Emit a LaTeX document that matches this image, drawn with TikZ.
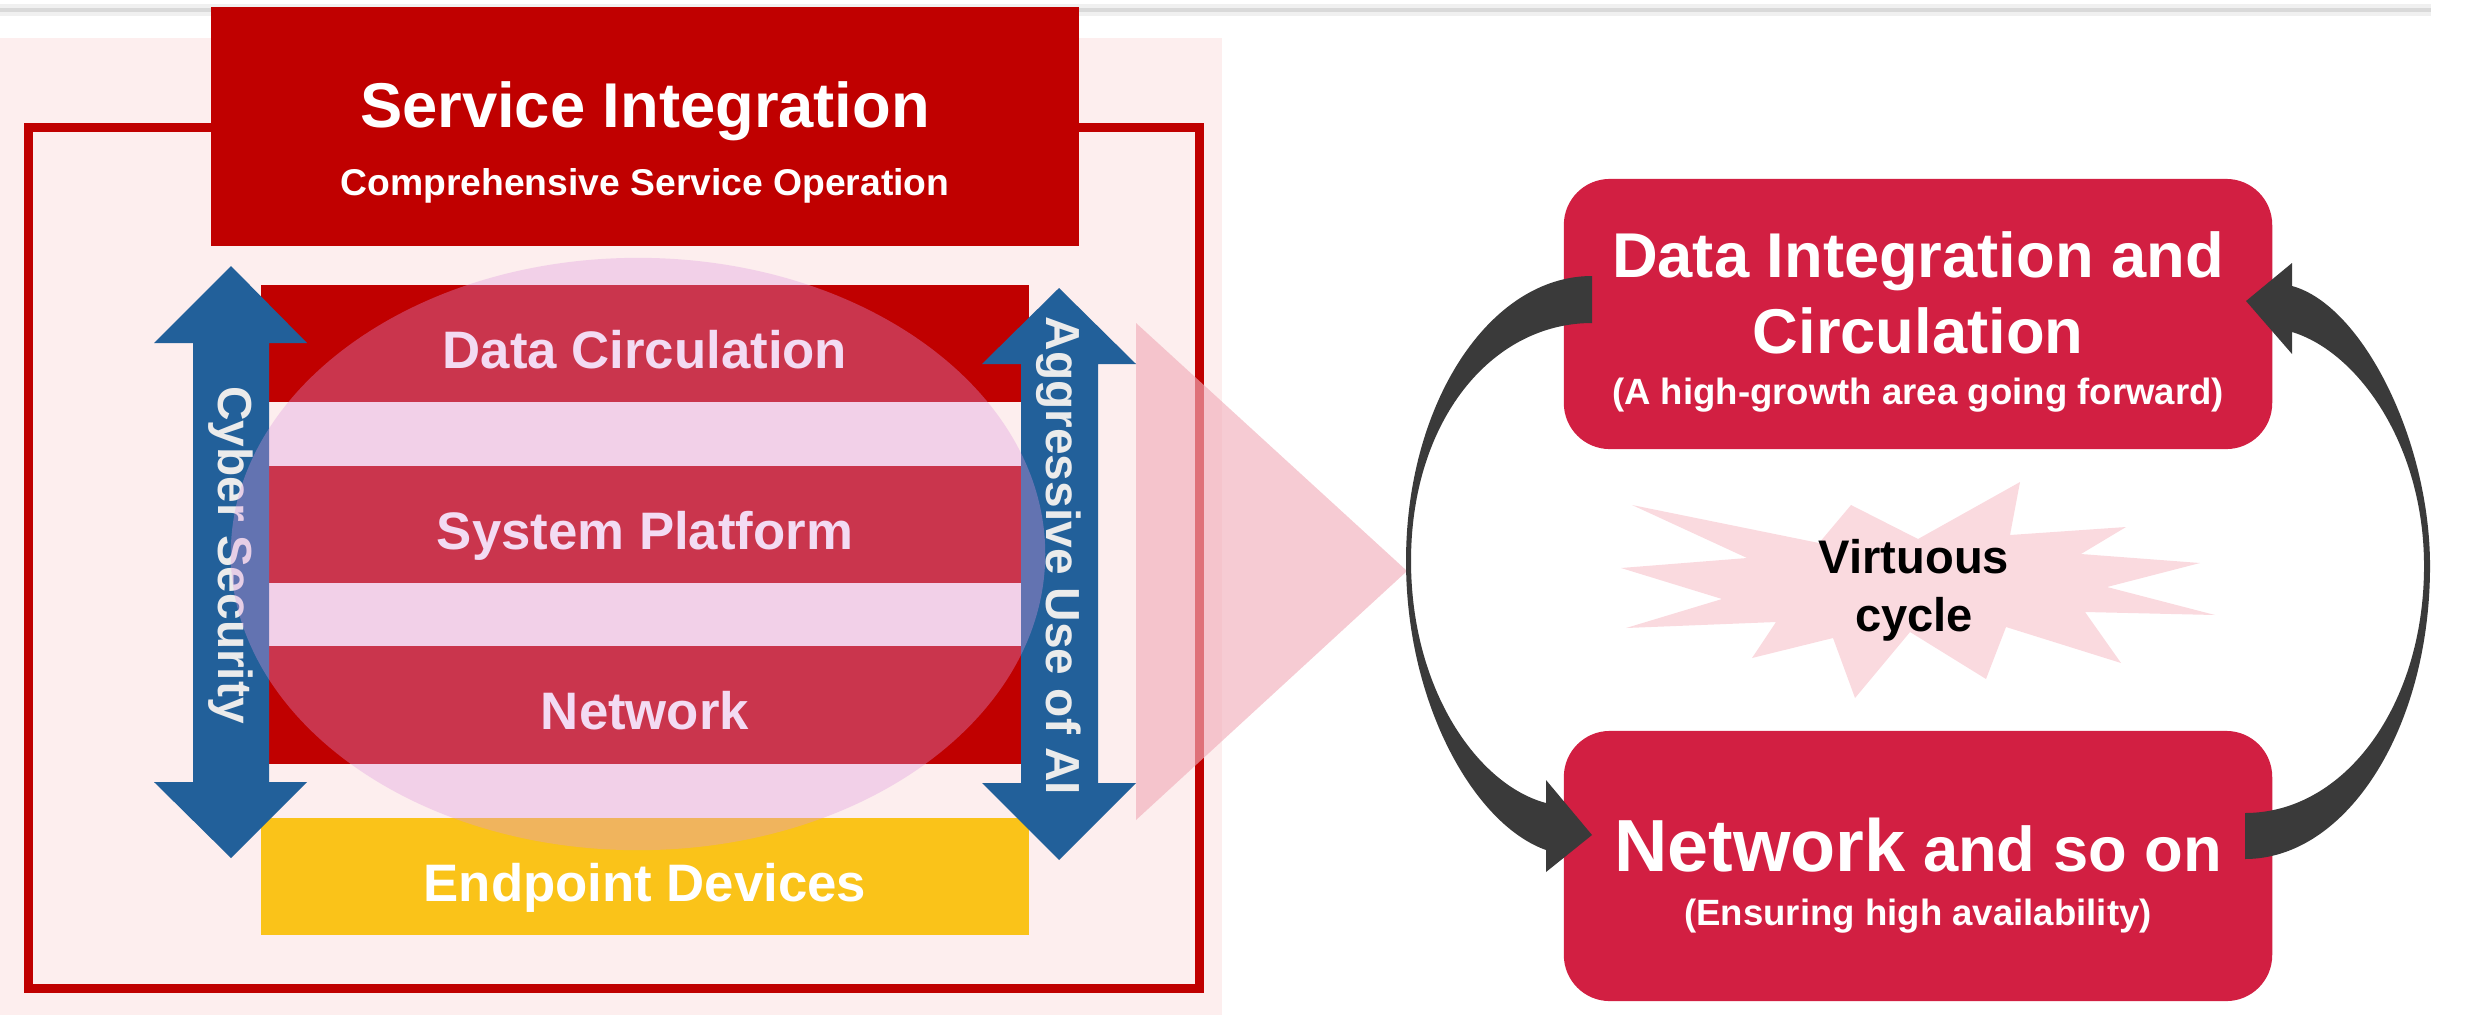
\documentclass[tikz,border=0pt]{standalone}
\usepackage{fontspec}
\setmainfont{Liberation Sans}

\definecolor{darkred}{RGB}{192,0,0}
\definecolor{bgpink}{RGB}{253,238,238}
\definecolor{secblue}{RGB}{34,96,154}
\definecolor{endyellow}{RGB}{250,195,25}
\definecolor{ellpink}{RGB}{223,153,221}
\definecolor{wedgepink}{RGB}{241,175,187}
\definecolor{cyclered}{RGB}{210,31,66}
\definecolor{starpink}{RGB}{250,218,223}
\definecolor{arrowgray}{RGB}{58,58,58}

\begin{document}
\begin{tikzpicture}[x=0.01cm, y=-0.01cm,
 every node/.style = {text=white, font=\bfseries},
      layer/.style = {rectangle, fill=darkred, minimum width=7.68cm, minimum height=1.17cm,
                      text height=14.2pt, text depth=0pt, font=\bfseries\fontsize{15}{18}\selectfont},
     cycbox/.style = {rectangle, rounded corners=0.46cm, fill=cyclered, minimum width=7.08cm, minimum height=2.7cm},
       side/.style = {rotate=-90, text=black!8, font=\bfseries\fontsize{13.6}{16}\selectfont},
      title/.style = {anchor=base, font=\bfseries\fontsize{18}{22}\selectfont},
       note/.style = {anchor=base, font=\bfseries\fontsize{10.5}{13}\selectfont}
                        ]
\useasboundingbox (0,0) rectangle (2483,1015);
% top rule
\draw[gray!12, line width=0.11cm] (0,10) -- (2431,10);
\draw[gray!30, line width=0.04cm] (0,10) -- (2431,10);
% left panel
\fill[bgpink] (0,38) rectangle (1222,1015);
\draw[darkred, line width=0.09cm] (28.5,127.5) rectangle (1199.5,988.5);
\node (service) [rectangle, fill=darkred, minimum width=8.68cm, minimum height=2.38cm] at (645,126.5) {};
\node (servicetitle) [title] at (645,127) {Service Integration};
\node (servicesub) [note, font=\bfseries\fontsize{10.6}{13}\selectfont] at (645,195) {Comprehensive Service Operation};
\node (datacirc) [layer] at (645,343.5) {Data Circulation};
\node (platform) [layer] at (645,524.5) {System Platform};
\node (network)  [layer] at (645,705) {Network};
\node (endpoint) [layer, fill=endyellow] at (645,876.5) {Endpoint Devices};
% side arrows
\fill[secblue] (231,266) -- (307,343) -- (269,343) -- (269,782) -- (307,782) -- (231,858)
   -- (154,782) -- (193,782) -- (193,343) -- (154,343) -- cycle;
\node (cyber) [side] at (231,555) {Cyber Security};
\fill[secblue] (1059,288) -- (1136,364) -- (1098,364) -- (1098,783) -- (1136,783) -- (1059,860)
   -- (982,783) -- (1021,783) -- (1021,364) -- (982,364) -- cycle;
\node (aiuse) [side] at (1059,556) {Aggressive Use of AI};
\fill[ellpink, opacity=.35] (638,554) ellipse [x radius=4.07cm, y radius=2.96cm];
% wedge
\fill[wedgepink, opacity=.65] (1136,323) -- (1407,571) -- (1136,820) -- cycle;
% cycle
\fill[starpink] (1632,505) -- (1819,543) -- (1851,505) -- (1918,539) -- (2020,482) -- (2010,535)
   -- (2126,527) -- (2081,554) -- (2200,563) -- (2107,587) -- (2215,615) -- (2085,612)
   -- (2121,663) -- (2006,627) -- (1986,679) -- (1910,632) -- (1855,698) -- (1833,638)
   -- (1752,658) -- (1776,622) -- (1626,628) -- (1722,599) -- (1621,568) -- (1747,558) -- cycle;
\node (virtuous) [text=black, align=center, font=\bfseries\fontsize{13.4}{16.5}\selectfont] at (1914,590) {Virtuous\\cycle};
\node (dataint) [cycbox] at (1918,314) {};
\node (netmore) [cycbox] at (1918,866) {};
\fill[arrowgray] (1592,276) .. controls (1489,276) and (1406,404) .. (1406,561)
   .. controls (1406,705) and (1475,825) .. (1546,850) -- (1546,872) -- (1592,835) -- (1546,780)
   -- (1546,803) .. controls (1478,785) and (1411,690) .. (1411,561)
   .. controls (1411,420) and (1492,323) .. (1592,323) -- cycle;
\fill[arrowgray] (2245,859) .. controls (2347,859) and (2430,728) .. (2430,566)
   .. controls (2430,440) and (2362,305) .. (2292,286) -- (2292,263) -- (2246,301) -- (2292,354)
   -- (2292,332) .. controls (2358,352) and (2424,445) .. (2424,566)
   .. controls (2424,705) and (2345,813) .. (2245,813) -- cycle;
\node (dataint-a) [title] at (1918,277) {Data Integration and};
\node (dataint-b) [title] at (1918,353) {Circulation};
\node (dataint-c) [note, font=\bfseries\fontsize{10.4}{13}\selectfont] at (1918,404) {(A high-growth area going forward)};
\node (netmore-a) [title] at (1918,871) {{\fontsize{21}{25}\selectfont Network} and so on};
\node (netmore-b) [note, font=\bfseries\fontsize{10.4}{13}\selectfont] at (1918,925) {(Ensuring high availability)};
\end{tikzpicture}
\end{document}
